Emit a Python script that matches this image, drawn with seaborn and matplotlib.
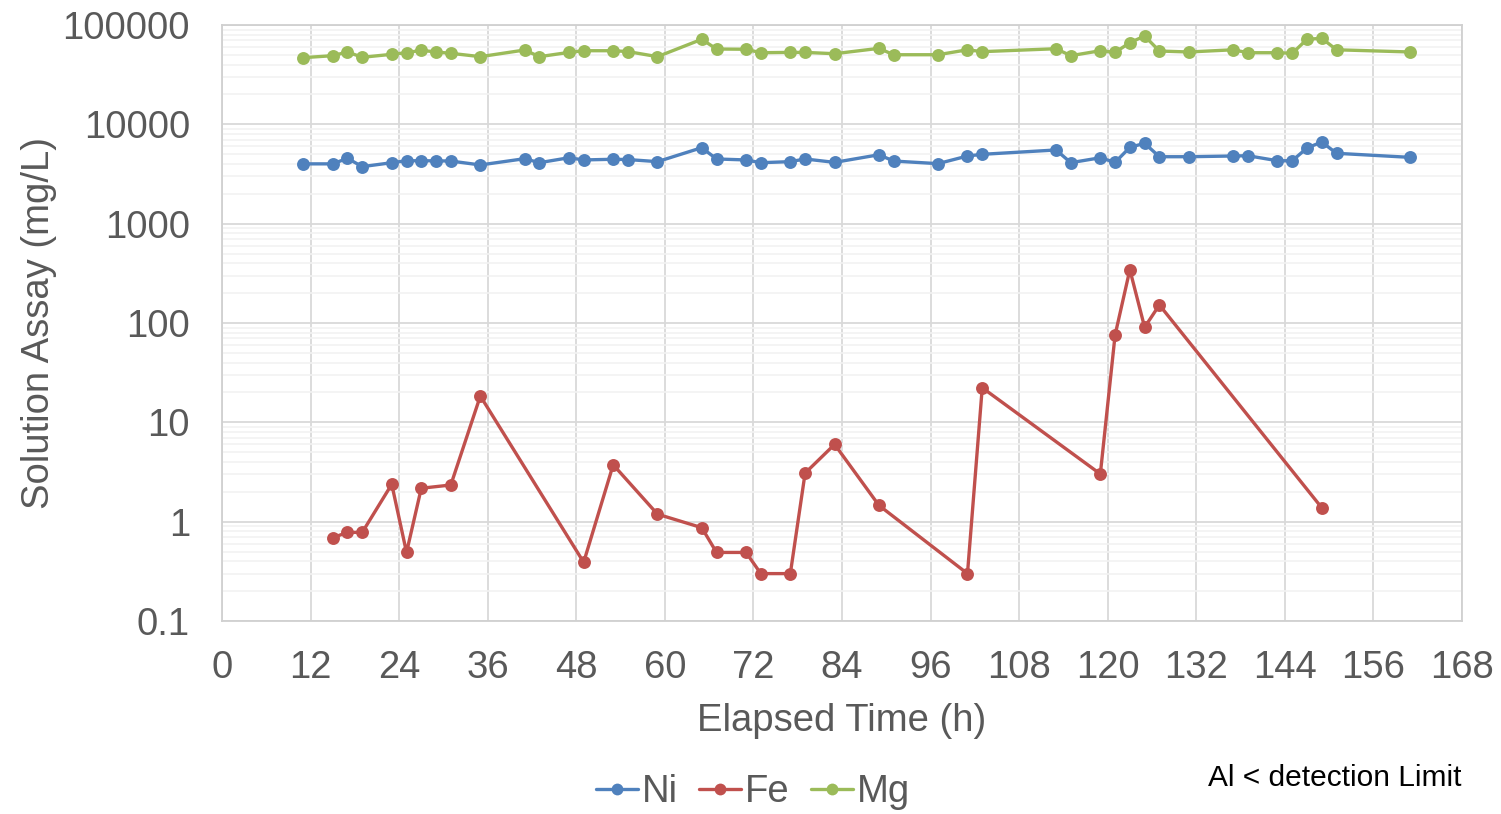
import matplotlib
matplotlib.use("Agg")
import matplotlib.pyplot as plt
import matplotlib.ticker as mticker
from matplotlib.lines import Line2D
import seaborn as sns
import pandas as pd

# ---- data ----
ni_time = [11, 15, 17, 19, 23, 25, 27, 29, 31, 35, 41, 43, 47, 49, 53, 55, 59, 65, 67, 71,
           73, 77, 79, 83, 89, 91, 97, 101, 103, 113, 115, 119, 121, 123, 125, 127, 131,
           137, 139, 143, 145, 147, 149, 151, 161]
ni_vals = [4000, 4000, 4550, 3750, 4110, 4300, 4300, 4290, 4270, 3900, 4510, 4110, 4610,
           4380, 4450, 4420, 4210, 5820, 4480, 4380, 4110, 4210, 4480, 4140, 4940, 4270,
           4020, 4800, 4990, 5520, 4110, 4610, 4140, 5870, 6440, 4720, 4720, 4800, 4830,
           4300, 4300, 5780, 6640, 5110, 4650]

fe_time = [15, 17, 19, 23, 25, 27, 31, 35, 49, 53, 59, 65, 67, 71, 73, 77, 79, 83, 89,
           101, 103, 119, 121, 123, 125, 127, 149]
fe_vals = [0.69, 0.78, 0.78, 2.38, 0.49, 2.17, 2.34, 18.4, 0.39, 3.74, 1.19, 0.87, 0.49,
           0.49, 0.30, 0.30, 3.08, 6.0, 1.46, 0.30, 22.3, 3.02, 75.7, 344, 90.6, 152, 1.38]

mg_time = ni_time
mg_vals = [46900, 49100, 53500, 47300, 50700, 52600, 55600, 53500, 51900, 48000, 56000,
           48000, 53000, 55100, 55100, 54000, 48000, 71800, 57300, 57000, 52600, 53000,
           53000, 51400, 58200, 50200, 50200, 56300, 53900, 57700, 49100, 55100, 53000,
           66400, 77500, 54700, 53500, 56300, 52600, 52600, 51900, 71800, 73500, 56300,
           53500]

elements = ["Ni", "Fe", "Mg"]
colors = ["#4F81BD", "#C0504D", "#9BBB59"]
x_ticks = list(range(0, 169, 12))
y_ticks = [0.1, 1, 10, 100, 1000, 10000, 100000]
y_tick_labels = ["0.1", "1", "10", "100", "1000", "10000", "100000"]

df = pd.concat([
    pd.DataFrame({"time": ni_time, "value": ni_vals, "element": "Ni"}),
    pd.DataFrame({"time": fe_time, "value": fe_vals, "element": "Fe"}),
    pd.DataFrame({"time": mg_time, "value": mg_vals, "element": "Mg"}),
], ignore_index=True)

sns.set_style("white")
plt.rcParams["font.family"] = ["Liberation Sans", "DejaVu Sans"]

FS = 27.5
fig = plt.figure(figsize=(15.01, 8.14), dpi=100)
ax = fig.add_axes([222 / 1501, 1 - 621 / 814, (1462 - 222) / 1501, (621 - 25) / 814])

sns.lineplot(data=df, x="time", y="value", hue="element", hue_order=elements,
             palette=dict(zip(elements, colors)), sort=False, estimator=None,
             marker="o", markersize=9.3, markeredgewidth=0, linewidth=2.4,
             ax=ax, legend=False)

ax.set_yscale("log")
ax.set_ylim(0.1, 100000)
ax.set_xlim(0, 168)
ax.set_xticks(x_ticks)
ax.set_xticklabels([str(t) for t in x_ticks])
ax.set_yticks(y_ticks)
ax.set_yticklabels(y_tick_labels)
ax.yaxis.set_minor_locator(mticker.LogLocator(base=10, subs=range(2, 10), numticks=20))
ax.yaxis.set_minor_formatter(mticker.NullFormatter())

ax.grid(True, which="major", axis="both", color="#D9D9D9", linewidth=1.3)
ax.grid(True, which="minor", axis="y", color="#F2F2F2", linewidth=1.2)
ax.set_axisbelow(True)
for s in ax.spines.values():
    s.set_color("#D0D0D0")
    s.set_linewidth(1.3)

ax.tick_params(axis="both", which="both", length=0, labelsize=FS, colors="#595959")
ax.tick_params(axis="x", pad=21)
ax.tick_params(axis="y", pad=23)

ax.set_xlabel("Elapsed Time (h)", fontsize=FS, color="#595959", labelpad=12)
ax.set_ylabel("Solution Assay (mg/L)", fontsize=FS, color="#595959", labelpad=4)

handles = [Line2D([0], [0], color=c, lw=2.4, marker="o", markersize=8.5, markeredgewidth=0)
           for c in colors]
fig.legend(handles, elements, loc="center", bbox_to_anchor=(753 / 1501, 1 - 792 / 814),
           ncol=3, frameon=False, fontsize=FS, handlelength=1.1, handletextpad=0.1,
           columnspacing=0.55, labelcolor="#595959")

fig.text(1462 / 1501, 1 - 778 / 814, "Al < detection Limit", ha="right", va="center",
         fontsize=21.5, color="black")

fig.savefig("out.png", dpi=100)
